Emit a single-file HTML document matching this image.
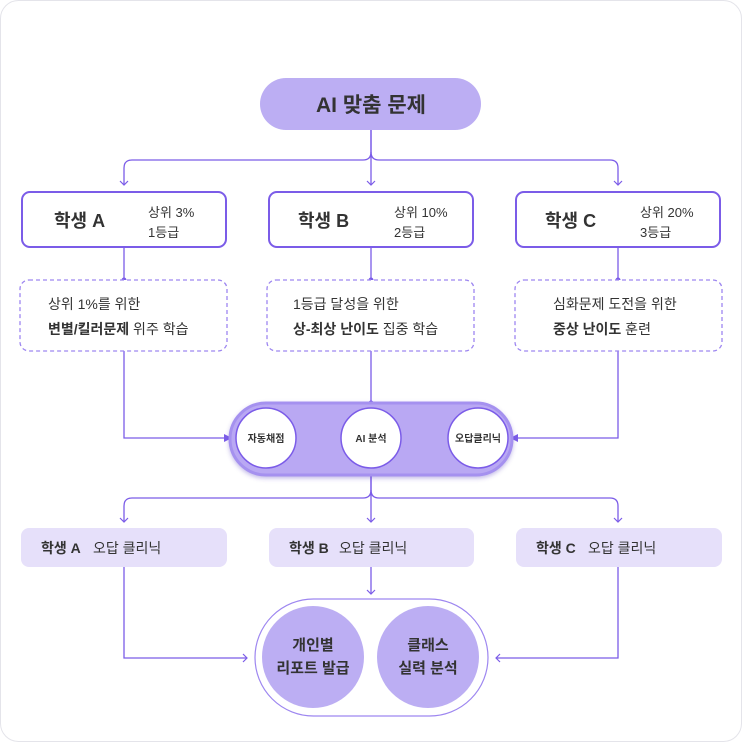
<!DOCTYPE html>
<html><head><meta charset="utf-8"><style>
html,body{margin:0;padding:0;background:#fff}
svg text{font-family:"Liberation Sans","Noto Sans CJK KR",sans-serif;fill:#333}
</style></head><body>
<svg width="743" height="743" viewBox="0 0 743 743" xmlns="http://www.w3.org/2000/svg">
<defs>
<marker id="ar" markerWidth="10" markerHeight="10" refX="5" refY="5" orient="auto" markerUnits="userSpaceOnUse">
<path d="M1,1 L5,5 L1,9" fill="none" stroke="#7b5ce8" stroke-width="1.2"/>
</marker>
<filter id="sh" x="-20%" y="-40%" width="140%" height="180%"><feDropShadow dx="0" dy="2" stdDeviation="2" flood-color="#5a3fc0" flood-opacity="0.35"/></filter>
</defs>
<rect x="0.5" y="0.5" width="741" height="741" rx="18" fill="#fff" stroke="#e4e4ea"/>

<g fill="none" stroke="#7b5ce8" stroke-width="1.3">
<path d="M371,130 V152 Q371,160 363,160 H132 Q124,160 124,168 V185" marker-end="url(#ar)"/>
<path d="M371,152 Q371,160 379,160 H610 Q618,160 618,168 V185" marker-end="url(#ar)"/>
<path d="M371,130 V185" marker-end="url(#ar)"/>
<path d="M124,247 V280 M371,247 V280 M618,247 V280"/>
<path d="M124,351 V438 H230"/>
<path d="M618,351 V438 H512"/>
<path d="M371,351 V403"/>
<path d="M371,475 V490 Q371,498 363,498 H132 Q124,498 124,506 V522" marker-end="url(#ar)"/>
<path d="M371,490 Q371,498 379,498 H610 Q618,498 618,506 V522" marker-end="url(#ar)"/>
<path d="M371,475 V522" marker-end="url(#ar)"/>
<path d="M371,567 V594" marker-end="url(#ar)"/>
<path d="M124,567 V658 H247" marker-end="url(#ar)"/>
<path d="M618,567 V658 H496" marker-end="url(#ar)"/>
</g>
<g fill="#7b5ce8">
<circle cx="124" cy="280" r="2.5"/><circle cx="371" cy="280" r="2.5"/><circle cx="618" cy="280" r="2.5"/>
<circle cx="371" cy="403" r="2.5"/>
<path d="M224,434 L232,438 L224,442Z"/><path d="M518,434 L510,438 L518,442Z"/>
</g>

<rect x="260" y="78" width="221" height="52" rx="26" fill="#bcaef3"/>
<text x="371" y="112" text-anchor="middle" font-size="21" font-weight="bold">AI 맞춤 문제</text>

<g fill="#fff" stroke="#7b5ce8" stroke-width="2">
<rect x="22" y="192" width="204" height="55" rx="8"/>
<rect x="269" y="192" width="204" height="55" rx="8"/>
<rect x="516" y="192" width="204" height="55" rx="8"/>
</g>
<g font-size="18" font-weight="bold">
<text x="54" y="227">학생 A</text><text x="298" y="227">학생 B</text><text x="545" y="227">학생 C</text>
</g>
<g font-size="13">
<text x="148" y="217">상위 3%</text><text x="148" y="237">1등급</text>
<text x="394" y="217">상위 10%</text><text x="394" y="237">2등급</text>
<text x="640" y="217">상위 20%</text><text x="640" y="237">3등급</text>
</g>

<g fill="#fff" stroke="#9d86f0" stroke-width="1.3" stroke-dasharray="4,3">
<rect x="20" y="280" width="207" height="71" rx="9"/>
<rect x="267" y="280" width="207" height="71" rx="9"/>
<rect x="515" y="280" width="207" height="71" rx="9"/>
</g>
<g font-size="14">
<text x="48" y="309">상위 1%를 위한</text>
<text x="48" y="334"><tspan font-weight="bold">변별/킬러문제</tspan> 위주 학습</text>
<text x="293" y="309">1등급 달성을 위한</text>
<text x="293" y="334"><tspan font-weight="bold">상-최상 난이도</tspan> 집중 학습</text>
<text x="553" y="309">심화문제 도전을 위한</text>
<text x="553" y="334"><tspan font-weight="bold">중상 난이도</tspan> 훈련</text>
</g>

<rect x="230" y="403" width="282" height="72" rx="36" fill="#b9a8f3" stroke="#a591ef" stroke-width="3" filter="url(#sh)"/>
<g fill="#fff" stroke="#7b5ce8" stroke-width="1.5">
<circle cx="266" cy="438" r="30"/><circle cx="371" cy="438" r="30"/><circle cx="478" cy="438" r="30"/>
</g>
<g font-size="10" font-weight="bold" text-anchor="middle">
<text x="266" y="442">자동채점</text><text x="371" y="442">AI 분석</text><text x="478" y="442">오답클리닉</text>
</g>

<g fill="#e6e0fa">
<rect x="21" y="528" width="206" height="39" rx="8"/>
<rect x="269" y="528" width="205" height="39" rx="8"/>
<rect x="516" y="528" width="206" height="39" rx="8"/>
</g>
<g font-size="14">
<text x="41" y="553" font-weight="bold">학생 A</text><text x="93" y="553">오답 클리닉</text>
<text x="289" y="553" font-weight="bold">학생 B</text><text x="339" y="553">오답 클리닉</text>
<text x="536" y="553" font-weight="bold">학생 C</text><text x="588" y="553">오답 클리닉</text>
</g>

<rect x="255" y="599" width="233" height="117" rx="58.5" fill="#fff" stroke="#9d86f0" stroke-width="1.2"/>
<circle cx="313" cy="657" r="51" fill="#bcaef3"/>
<circle cx="428" cy="657" r="51" fill="#bcaef3"/>
<g font-size="15" font-weight="bold" text-anchor="middle">
<text x="313" y="650">개인별</text><text x="313" y="673">리포트 발급</text>
<text x="428" y="650">클래스</text><text x="428" y="673">실력 분석</text>
</g>
</svg>
</body></html>
